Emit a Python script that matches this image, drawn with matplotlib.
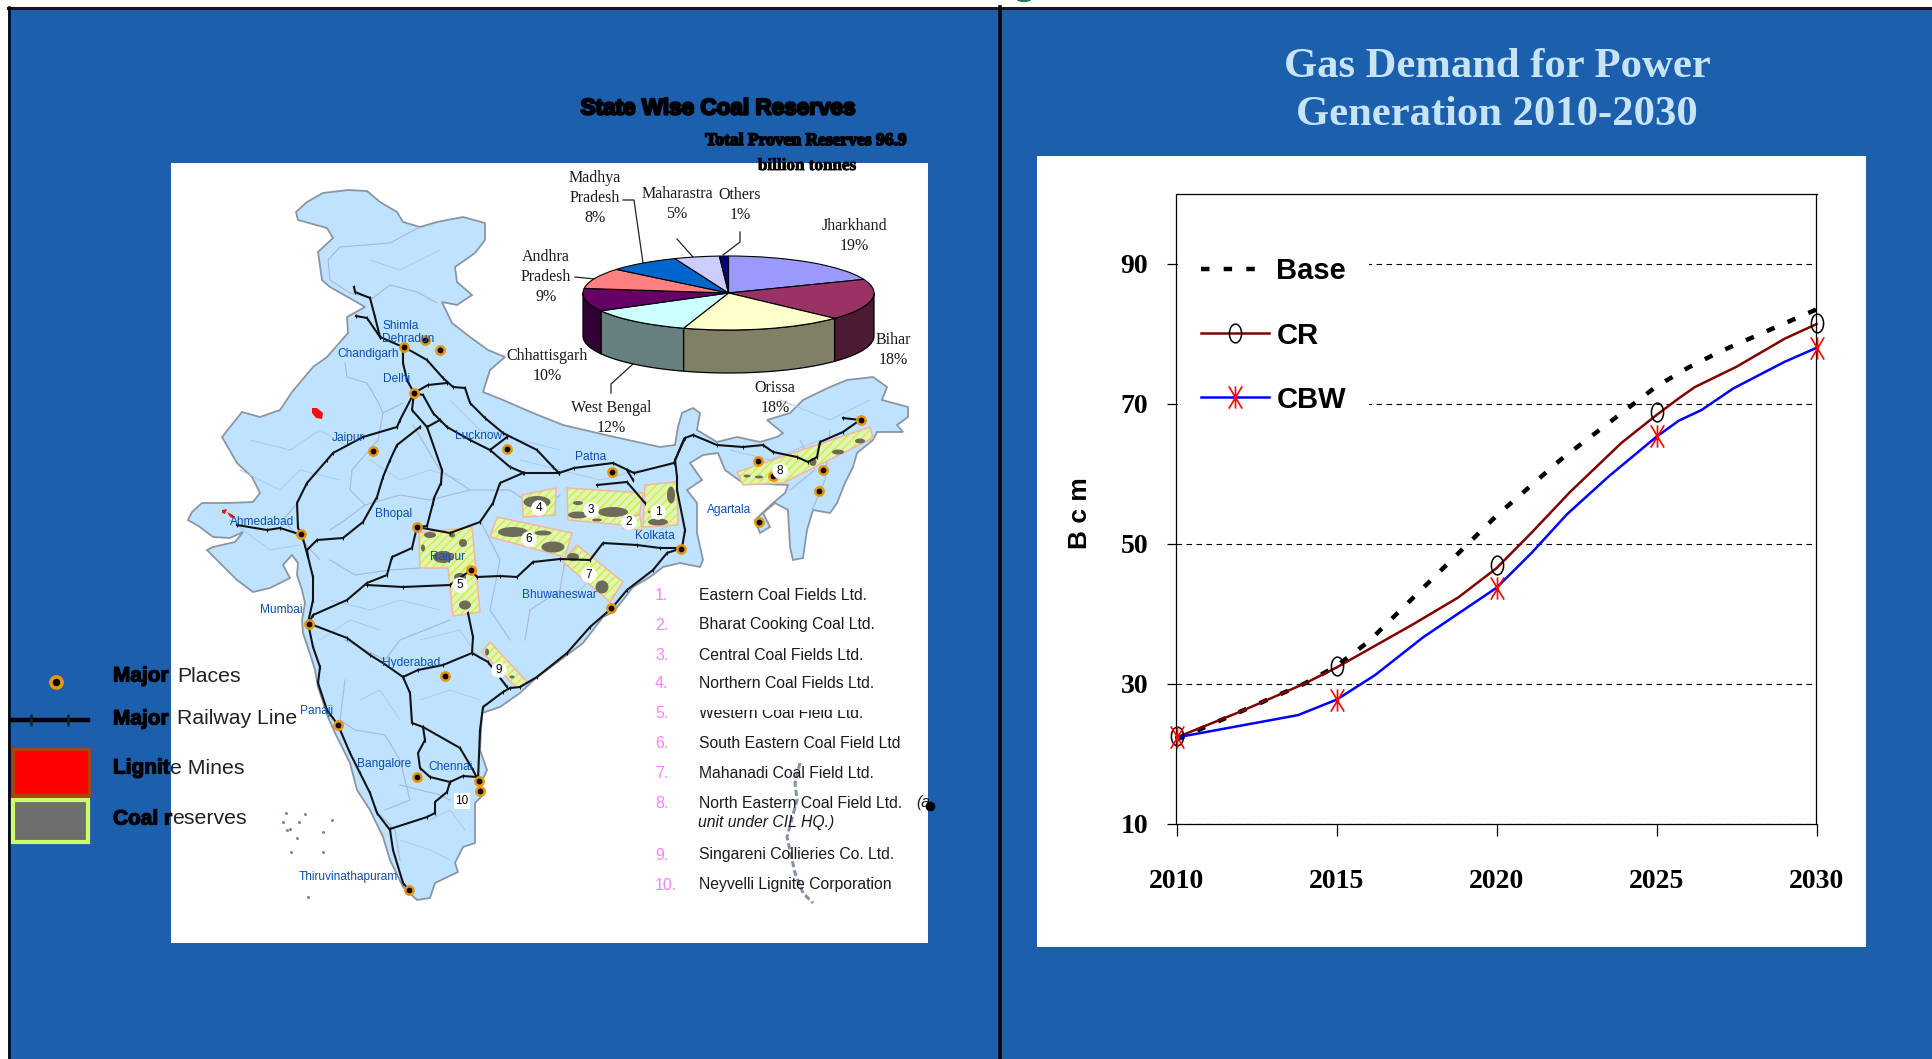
import matplotlib
matplotlib.use('Agg')
import numpy as np
import matplotlib.pyplot as plt
import matplotlib.patheffects as pe
from matplotlib.colors import to_rgb
from matplotlib.lines import Line2D
from matplotlib.patches import Ellipse, Polygon, Rectangle
from matplotlib.path import Path
from matplotlib.transforms import Affine2D

W, H = 1933, 1059
BLUE = '#1C60AD'
SERIF = 'Liberation Serif'
SANS = 'Liberation Sans'

# gas demand curves (Bcm)
base_x = [2010, 2011, 2012, 2013, 2014, 2015, 2016, 2017, 2018, 2019, 2020,
          2021, 2022, 2023, 2024, 2025, 2026, 2027, 2028, 2029, 2030]
base_y = [22, 24, 26, 28, 30, 32.5, 36, 40.5, 45, 49.5, 54,
          58, 62, 65.5, 69, 72.5, 75.2, 77.5, 79.5, 81.5, 83.5]
cr_x = [2010, 2012, 2014, 2015, 2017.4, 2018.8, 2020, 2021.1, 2022.3, 2023.9,
        2025, 2025.7, 2026.2, 2027.5, 2029, 2030]
cr_y = [22.3, 26, 30, 32.3, 38.5, 42.3, 46.5, 51.6, 57.4, 64.4,
        68.4, 70.8, 72.4, 75.3, 79.3, 81.4]
cbw_x = [2010, 2013.8, 2015, 2016.2, 2017.7, 2020, 2021.1, 2022.2, 2023.5,
         2025, 2025.7, 2026.4, 2027.4, 2029, 2030]
cbw_y = [22.3, 25.5, 27.7, 31.2, 36.6, 43.7, 48.7, 54.2, 59.6,
         65.3, 67.6, 69.1, 72.2, 76, 78]
marker_years = [2010, 2015, 2020, 2025, 2030]
cr_marks = [22.5, 32.5, 46.9, 68.8, 81.5]
cbw_marks = [22.3, 27.6, 43.7, 65.4, 78]
y_ticks = [10, 30, 50, 70, 90]

# coal reserves by state (%)
pie_values = [19, 18, 18, 12, 10, 9, 8, 5, 1]
pie_colors = ['#9999FF', '#993366', '#FFFFCC', '#CCFFFF', '#660066',
              '#FF8080', '#0066CC', '#CCCCFF', '#000080']
pie_labels = ['Jharkhand\n19%', 'Bihar\n18%', 'Orissa\n18%', 'West Bengal\n12%',
              'Chhattisgarh\n10%', 'Andhra\nPradesh\n9%', 'Madhya\nPradesh\n8%',
              'Maharastra\n5%', 'Others\n1%']
pie_label_xy = [(854, 236), (893, 350), (775, 398), (611, 418), (547, 366),
                (546, 277), (595, 198), (677, 204), (740, 205)]
pie_leaders = [[(623, 200), (634, 200), (643, 263)],
               [(677, 239), (693, 257)],
               [(740, 232), (740, 242), (723, 255)],
               [(575, 277), (595, 279)],
               [(611, 393), (611, 384), (633, 364)]]

companies = ['Eastern Coal Fields Ltd.', 'Bharat Cooking Coal Ltd.',
             'Central Coal Fields Ltd.', 'Northern Coal Fields Ltd.',
             'Western Coal Field Ltd.', 'South Eastern Coal Field Ltd',
             'Mahanadi Coal Field Ltd.', 'North Eastern Coal Field Ltd.',
             'Singareni Collieries Co. Ltd.', 'Neyvelli Lignite Corporation']
company_rows = [596, 625, 656, 684, 713, 744, 773, 803, 855, 885]

# map geometry, in pixels of the slide
india = [(296, 212), (307, 202), (323, 193), (348, 190), (367, 191), (380, 202),
         (397, 212), (403, 222), (420, 227), (437, 222), (463, 217), (485, 223),
         (485, 240), (475, 253), (455, 267), (457, 282), (472, 295), (457, 305),
         (442, 302), (452, 323), (470, 337), (488, 350), (505, 357), (490, 370),
         (483, 392), (503, 400), (533, 413), (563, 425), (610, 436), (660, 447),
         (675, 445), (678, 427), (682, 413), (693, 408), (700, 413), (697, 430),
         (717, 442), (737, 437), (760, 442), (777, 437), (783, 433), (767, 420),
         (790, 413), (803, 400), (830, 387), (847, 380), (873, 377), (887, 387),
         (882, 400), (908, 407), (908, 417), (897, 425), (903, 432), (877, 432),
         (873, 440), (857, 453), (853, 467), (845, 483), (837, 503), (830, 513),
         (813, 510), (807, 530), (803, 558), (793, 560), (790, 547), (788, 510),
         (775, 503), (763, 513), (770, 527), (760, 533), (755, 520), (773, 503),
         (785, 493), (788, 485), (743, 483), (725, 470), (718, 453), (703, 455),
         (690, 463), (702, 480), (687, 490), (697, 503), (697, 533), (703, 560),
         (700, 567), (680, 563), (663, 567), (650, 577), (633, 587), (623, 600),
         (613, 612), (603, 617), (583, 643), (547, 670), (537, 677), (520, 693),
         (500, 707), (482, 713), (480, 750), (487, 770), (480, 785), (483, 795),
         (475, 803), (475, 843), (463, 847), (455, 863), (458, 872), (435, 883),
         (430, 898), (417, 900), (403, 887), (390, 860), (383, 837), (370, 810),
         (357, 790), (350, 763), (335, 733), (328, 717), (318, 687), (315, 670),
         (312, 660), (303, 633), (302, 620), (305, 603), (302, 590), (297, 575),
         (298, 563), (292, 555), (283, 565), (290, 578), (270, 588), (253, 592),
         (237, 580), (220, 563), (207, 550), (213, 547), (235, 542), (243, 532),
         (230, 538), (213, 537), (200, 527), (188, 520), (192, 512), (202, 503),
         (227, 503), (253, 502), (260, 493), (252, 477), (237, 463), (222, 437),
         (230, 427), (242, 412), (260, 417), (280, 410), (292, 392), (313, 367),
         (327, 357), (348, 333), (347, 317), (365, 307), (353, 300), (330, 287),
         (322, 280), (318, 252), (333, 238), (327, 228), (298, 220)]

state_lines = [[(418, 228), (390, 243), (340, 247), (328, 260), (330, 280), (350, 293), (373, 298)],
               [(373, 298), (390, 285), (417, 292), (437, 303)],
               [(345, 363), (347, 377), (367, 383), (377, 400), (383, 413), (403, 403)],
               [(383, 413), (378, 440), (352, 470), (350, 490), (365, 505), (345, 520), (330, 530)],
               [(413, 425), (440, 470), (470, 490), (510, 490), (540, 510), (560, 495)],
               [(365, 505), (400, 495), (430, 500), (470, 490)],
               [(330, 560), (355, 575), (390, 570), (420, 568)],
               [(480, 520), (500, 560), (490, 610), (510, 640)],
               [(565, 560), (560, 590), (530, 610), (525, 640)],
               [(345, 640), (385, 660), (400, 640), (450, 620)],
               [(345, 680), (340, 720), (355, 730), (385, 735), (400, 760), (410, 800), (385, 810)],
               [(400, 785), (440, 795), (450, 800)],
               [(375, 810), (395, 830), (400, 860)],
               [(300, 500), (283, 520), (320, 560)],
               [(800, 440), (815, 470), (790, 490)],
               [(830, 430), (825, 480), (812, 510)]]
district_lines = [[(250, 440), (290, 450), (320, 430), (345, 445)],
                  [(240, 470), (280, 490), (300, 470), (340, 480)],
                  [(370, 460), (400, 480), (430, 470), (460, 480)],
                  [(450, 400), (480, 430), (520, 440), (560, 450)],
                  [(520, 460), (560, 470), (600, 480), (640, 470)],
                  [(230, 520), (270, 550), (300, 545)],
                  [(330, 600), (370, 610), (400, 600), (440, 610)],
                  [(320, 640), (350, 620), (380, 630)],
                  [(420, 640), (460, 630), (480, 660)],
                  [(540, 590), (570, 600), (590, 580)],
                  [(420, 700), (450, 690), (480, 700)],
                  [(360, 700), (380, 690), (400, 720)],
                  [(430, 820), (450, 810), (465, 830)],
                  [(400, 840), (430, 850), (450, 860)],
                  [(780, 400), (830, 420), (870, 400)],
                  [(730, 450), (770, 460), (820, 440)],
                  [(370, 260), (400, 270), (440, 250)],
                  [(640, 550), (660, 530), (680, 520)]]

rail_lines = [[(354, 287), (355, 292), (370, 298), (375, 317), (380, 337), (403, 347), (403, 363), (407, 380), (414, 393)],
              [(356, 316), (367, 318), (380, 337)],
              [(404, 347), (427, 360), (443, 378), (453, 387), (465, 388), (470, 403), (485, 418), (503, 433), (537, 450), (553, 467), (559, 473)],
              [(559, 473), (574, 468), (613, 463), (634, 473), (674, 463), (684, 439)],
              [(414, 393), (428, 385), (447, 383)],
              [(414, 393), (423, 395), (433, 413), (447, 427), (470, 440), (490, 450), (510, 467), (524, 473), (559, 473)],
              [(490, 450), (507, 437)],
              [(414, 393), (412, 410), (427, 427), (440, 420)],
              [(427, 427), (442, 470), (441, 483), (434, 498), (433, 503), (427, 526), (417, 527)],
              [(417, 527), (412, 548), (392, 557), (387, 575), (367, 583), (347, 600), (313, 615), (309, 623)],
              [(367, 585), (403, 587), (450, 585), (471, 570)],
              [(414, 393), (400, 420), (397, 427), (363, 437), (333, 453), (327, 460), (307, 483), (297, 503), (298, 528), (302, 535)],
              [(302, 535), (280, 528), (267, 530), (237, 525)],
              [(302, 535), (308, 557), (313, 577), (313, 600), (308, 623)],
              [(308, 557), (307, 550), (317, 540), (343, 538), (363, 522), (377, 497), (383, 477), (390, 460), (397, 445), (420, 427)],
              [(308, 623), (347, 638), (370, 655), (383, 663), (403, 677), (410, 693), (412, 723), (423, 727), (460, 748), (473, 770), (478, 780)],
              [(403, 677), (418, 670), (443, 665), (472, 653), (488, 662), (507, 687)],
              [(468, 613), (473, 637), (472, 653)],
              [(478, 780), (480, 730), (483, 707), (503, 692), (510, 688), (520, 687), (537, 677), (567, 653), (590, 627), (612, 608), (627, 590), (653, 570), (667, 553), (682, 548)],
              [(471, 570), (477, 577), (500, 576), (517, 577), (533, 562), (560, 559), (590, 560), (603, 543), (637, 545), (660, 548), (682, 548)],
              [(417, 527), (450, 533), (480, 522), (493, 503), (500, 483), (523, 473)],
              [(682, 548), (685, 530), (677, 490), (677, 477), (675, 460), (685, 438), (693, 435), (717, 445), (743, 447), (763, 445), (773, 452), (797, 457), (808, 462), (817, 457), (820, 442), (843, 432), (860, 420), (843, 418)],
              [(597, 485), (627, 482), (645, 503)],
              [(633, 480), (627, 470)],
              [(423, 727), (425, 740), (418, 753), (420, 768), (430, 777), (450, 782), (463, 776), (477, 777)],
              [(450, 782), (447, 792), (435, 802), (435, 813), (427, 817), (390, 829)],
              [(308, 623), (313, 647), (320, 667), (318, 683), (327, 710), (338, 725), (350, 753), (360, 773), (370, 793), (377, 813), (390, 830), (393, 850), (403, 883), (409, 890)]]

cities = [(404, 347), (425, 340), (440, 350), (414, 393), (373, 451), (507, 449),
          (758, 461), (773, 476), (823, 470), (819, 491), (759, 522), (861, 420),
          (681, 549), (612, 472), (301, 534), (417, 527), (309, 624), (471, 570),
          (611, 608), (445, 676), (338, 725), (417, 777), (479, 781), (480, 791),
          (409, 890)]
city_names = [('Shimla', 383, 326), ('Dehradun', 382, 339), ('Chandigarh', 337, 354),
              ('Delhi', 383, 379), ('Jaipur', 332, 438), ('Lucknow', 455, 436),
              ('Patna', 575, 457), ('Agartala', 707, 510), ('Kolkata', 635, 536),
              ('Bhopal', 375, 514), ('Ahmedabad', 230, 522), ('Raipur', 430, 557),
              ('Bhuwaneswar', 522, 595), ('Mumbai', 260, 610), ('Hyderabad', 382, 663),
              ('Panaji', 300, 711), ('Bangalore', 357, 764), ('Chennai', 428, 767),
              ('Thiruvinathapuram', 299, 877)]

coal_zones = [[(645, 485), (677, 482), (678, 525), (643, 527)],
              [(623, 517), (640, 515), (642, 530), (623, 528)],
              [(567, 488), (643, 493), (640, 513), (623, 525), (568, 520)],
              [(522, 495), (556, 488), (555, 515), (523, 517)],
              [(419, 533), (472, 527), (480, 612), (453, 616), (448, 568), (420, 568)],
              [(497, 517), (572, 533), (565, 557), (490, 537)],
              [(577, 545), (623, 582), (610, 602), (563, 562)],
              [(490, 642), (527, 682), (517, 688), (482, 652)],
              [(737, 472), (870, 427), (873, 438), (783, 483), (743, 485)]]
coal_blobs = [(671, 495, 8, 17), (658, 522, 20, 7), (653, 512, 10, 4), (578, 503, 10, 4),
              (578, 515, 20, 7), (613, 512, 30, 10), (597, 520, 10, 3), (537, 502, 27, 12),
              (430, 535, 12, 6), (452, 535, 6, 5), (463, 543, 8, 8), (443, 557, 20, 12),
              (460, 577, 12, 8), (465, 605, 12, 9), (423, 548, 4, 7), (513, 532, 30, 10),
              (543, 533, 17, 5), (553, 547, 23, 11), (573, 557, 12, 8), (602, 587, 13, 13),
              (487, 652, 4, 7), (512, 677, 5, 3), (838, 452, 12, 5), (860, 441, 10, 5),
              (813, 462, 7, 8), (747, 476, 7, 3), (759, 477, 8, 3)]
zone_numbers = [('1', 658, 512), ('2', 629, 522), ('3', 591, 510), ('4', 539, 508),
                ('5', 460, 585), ('6', 529, 539), ('7', 589, 575), ('8', 780, 471),
                ('9', 499, 670), ('10', 462, 801)]
lignite = [[(312, 408), (317, 408), (323, 413), (322, 419), (316, 418), (312, 413)],
           [(222, 510), (227, 509), (225, 514), (222, 513)],
           [(227, 512), (233, 515), (235, 519), (230, 517)]]
islands_west = [(286, 813), (283, 822), (287, 830), (290, 829), (297, 838), (291, 852),
                (299, 822), (305, 814), (323, 832), (323, 852), (332, 820), (308, 897)]
islands_east = [(800, 763), (795, 783), (797, 800), (787, 837), (795, 873), (803, 893), (813, 903)]

fig = plt.figure(figsize=(W / 100, H / 100), dpi=100, facecolor='white')

# whole slide in pixel coordinates, y downwards
canvas = fig.add_axes([0, 0, 1, 1])
canvas.set_xlim(0, W)
canvas.set_ylim(H, 0)
canvas.axis('off')

canvas.add_patch(Rectangle((8, 7), W, H, fc=BLUE, ec='none', zorder=0))
canvas.plot([8, W], [7.5, 7.5], color='#151515', lw=2.2, zorder=1)
canvas.plot([9, 9], [7, H], color='black', lw=1.8, zorder=1)
canvas.plot([1000.5, 1000.5], [7, H], color='black', lw=2.6, zorder=1)
canvas.add_patch(Ellipse((1024, 0), 14, 4, fc='#1E7A50', ec='none', zorder=1))
canvas.add_patch(Rectangle((171, 163), 757, 780, fc='white', ec='none', zorder=1))
canvas.add_patch(Rectangle((1037, 156), 829, 791, fc='white', ec='none', zorder=1))

# map
canvas.add_patch(Polygon(india, closed=True, fc='#BFE3FF', ec='#8B95A3', lw=1.3, zorder=2))
for line in district_lines:
    xs, ys = zip(*line)
    canvas.plot(xs, ys, color='#AFC6EE', lw=0.7, zorder=2.1)
for line in state_lines:
    xs, ys = zip(*line)
    canvas.plot(xs, ys, color='#A8B8D2', lw=0.8, zorder=2.2)
for zone in coal_zones:
    canvas.add_patch(Polygon(zone, closed=True, fc='#DDF5B8', ec='#D9EC2E', hatch='////', lw=0, zorder=2.3))
    canvas.add_patch(Polygon(zone, closed=True, fc='none', ec='#F3B5A8', lw=1.1, zorder=2.4))
for cx, cy, bw, bh in coal_blobs:
    canvas.add_patch(Ellipse((cx, cy), bw, bh, fc='#6C6C58', ec='none', zorder=2.5))
for patch in lignite:
    canvas.add_patch(Polygon(patch, closed=True, fc='#F01010', ec='none', zorder=2.6))
for line in rail_lines:
    xs, ys = zip(*line)
    canvas.plot(xs, ys, color='#101418', lw=1.5, marker='|', ms=3.5, mew=0.8, zorder=3)
xs, ys = zip(*cities)
canvas.plot(xs, ys, ls='none', marker='o', ms=6, mfc='black', mec='#E8960E', mew=1.8, zorder=3.2)
for name, x, y in city_names:
    canvas.text(x, y, name, family=SANS, fontsize=8.6, color='#0B4FB4', va='center', zorder=4)
for num, x, y in zone_numbers:
    canvas.text(x, y, num, family=SANS, fontsize=8.5, color='black', ha='center', va='center', zorder=4,
                bbox=dict(boxstyle='circle,pad=0.15' if num != '10' else 'square,pad=0.15', fc='white', ec='none'))
xs, ys = zip(*islands_west)
canvas.plot(xs, ys, ls='none', marker='o', ms=2.2, color='#7F8A96', mew=0, zorder=2)
xs, ys = zip(*islands_east)
canvas.plot(xs, ys, color='#8494A8', lw=2.2, ls=(0, (2, 1)), zorder=2)

# company list
for i, (name, row) in enumerate(zip(companies, company_rows)):
    canvas.text(655, row, f'{i + 1}.', family=SANS, fontsize=11.5, color='#FF80FF', va='center', zorder=4)
    canvas.text(699, row, name, family=SANS, fontsize=11.3, color='#1A1A1A', va='center', zorder=4)
canvas.text(916, 803, '(a', family=SANS, style='italic', fontsize=11.3, color='#1A1A1A', va='center', zorder=4)
canvas.plot([930], [806], marker='o', ms=6, color='black', zorder=4)
canvas.text(698, 823, 'unit under CIL HQ.)', family=SANS, style='italic', fontsize=11.3,
            color='#1A1A1A', va='center', zorder=4)
# rows 5 and 6 are partly cut off on the slide
canvas.add_patch(Rectangle((690, 703), 190, 6.5, fc='white', ec='none', zorder=5))
canvas.add_patch(Rectangle((690, 749), 190, 6, fc='white', ec='none', zorder=5))

# map legend, split over the panel edge
double = [pe.withStroke(linewidth=0.9, foreground='black')]
for head, tail, tail_x, row in [('Major', 'Places', 177, 676), ('Major', 'Railway Line', 177, 719),
                                ('Lignit', 'e Mines', 170, 768), ('Coal r', 'eserves', 172, 819)]:
    canvas.text(113, row, head, family=SANS, weight='bold', fontsize=15, color='black', va='center',
                zorder=6, path_effects=double)
    canvas.text(tail_x, row, tail, family=SANS, fontsize=15.3, color='#222222', va='center', zorder=6)
canvas.plot([56], [682], marker='o', ms=8, mfc='black', mec='#E8960E', mew=2.6, zorder=6)
canvas.plot([12, 88], [720, 720], color='black', lw=3.2, zorder=6)
canvas.plot([31, 68], [720, 720], ls='none', marker='|', ms=9, mew=1.8, color='#202020', zorder=6)
canvas.add_patch(Rectangle((13, 749), 76, 46, fc='#FF0000', ec='#A84418', lw=2.2, zorder=6))
canvas.add_patch(Rectangle((13, 800), 75, 42, fc='#6E6E6E', ec='#CCFF66', lw=3, zorder=6))

# pie titles and labels
canvas.text(718, 109, 'State Wise Coal Reserves', family=SANS, weight='bold', fontsize=16.2, color='black',
            ha='center', va='center', zorder=6, path_effects=[pe.withStroke(linewidth=1.6, foreground='black')])
canvas.text(806, 141, 'Total Proven Reserves 96.9', family=SERIF, weight='bold', fontsize=12.6, color='black',
            ha='center', va='center', zorder=6, path_effects=[pe.withStroke(linewidth=1.2, foreground='black')])
canvas.text(807, 166, 'billion tonnes', family=SERIF, weight='bold', fontsize=12.3, color='black',
            ha='center', va='center', zorder=6, path_effects=[pe.withStroke(linewidth=0.6, foreground='black')])
for label, (x, y) in zip(pie_labels, pie_label_xy):
    canvas.text(x, y, label, family=SERIF, fontsize=11.5, color='#1A1A1A', ha='center', va='center',
                linespacing=1.32, zorder=6)
for leader in pie_leaders:
    xs, ys = zip(*leader)
    canvas.plot(xs, ys, color='#222222', lw=0.9, zorder=6)

# 3-D looking pie: flat pie squashed by the axes, walls underneath
pie_depth = 43 / 37
pie_ax = fig.add_axes([583 / W, (H - 373) / H, 291 / W, 117 / H], zorder=2)
pie_ax.patch.set_visible(False)
start = 90.0
for value, color in zip(pie_values, pie_colors):
    stop = start - 3.6 * value
    a0, a1 = max(stop, -180.0), min(start, 0.0)
    if a1 > a0:
        angles = np.radians(np.linspace(a0, a1, 40))
        upper = np.column_stack([np.cos(angles), np.sin(angles)])
        lower = (upper - [0, pie_depth])[::-1]
        shade = tuple(c * 0.5 for c in to_rgb(color))
        pie_ax.add_patch(Polygon(np.vstack([upper, lower]), closed=True, fc=shade, ec='black', lw=0.9, clip_on=False))
    start = stop
pie_ax.pie(pie_values, colors=pie_colors, startangle=90, counterclock=False, radius=1,
           wedgeprops=dict(edgecolor='black', linewidth=0.8, clip_on=False))
pie_ax.set_aspect('auto')
pie_ax.set_xlim(-1, 1)
pie_ax.set_ylim(-1 - pie_depth, 1)

# gas demand chart
ax = fig.add_axes([1176.5 / W, (H - 823.5) / H, 640 / W, 629.5 / H], zorder=2)
ax.set_xlim(2010, 2030)
ax.set_ylim(10, 100)
ax.set_xticks(marker_years)
ax.set_yticks(y_ticks)
ax.grid(True, axis='y', color='black', lw=0.8, ls=(0, (5, 4)))
ax.set_axisbelow(True)
ax.tick_params(axis='y', length=6.5, width=0.9, pad=14)
ax.tick_params(axis='x', length=8.5, width=0.9, pad=24)
for label in ax.get_xticklabels() + ax.get_yticklabels():
    label.set_family(SERIF)
    label.set_weight('bold')
    label.set_fontsize(20)
for spine in ax.spines.values():
    spine.set_linewidth(0.9)

# tall narrow marker shapes
ring = Path.unit_circle().transformed(Affine2D().scale(0.65, 1))
star = Path([(-0.6, -1), (0.6, 1), (0.6, -1), (-0.6, 1), (0, -1), (0, 1)],
            [Path.MOVETO, Path.LINETO] * 3)

base_style = dict(color='black', lw=3.2, ls=(0, (1.9, 3.2)))
ax.plot(base_x, base_y, clip_on=False, **base_style)
ax.plot(cr_x, cr_y, color='#800000', lw=1.8, clip_on=False)
ax.plot(cbw_x, cbw_y, color='#0000FF', lw=1.8, clip_on=False)
ax.plot(marker_years, cr_marks, ls='none', marker=ring, ms=13.5, mfc='none', mec='black', mew=1.1, clip_on=False, zorder=4)
ax.plot(marker_years, cbw_marks, ls='none', marker=star, ms=16, mfc='none', mec='#FF0000', mew=1.2, clip_on=False, zorder=4)

handles = [Line2D([], [], **base_style),
           Line2D([], [], color='#800000', lw=1.8, marker=ring, ms=13.5, mfc='none', mec='black', mew=1.1),
           Line2D([], [], color='#0000FF', lw=1.8, marker=star, ms=16, mfc='none', mec='#FF0000', mew=1.2)]
ax.legend(handles, ['Base', 'CR', 'CBW'], loc='upper left', bbox_to_anchor=(1178 / W, 1 - 234 / H),
          bbox_transform=fig.transFigure, borderaxespad=0, framealpha=1, facecolor='white', edgecolor='none',
          fancybox=False, numpoints=1, handlelength=2.33, handletextpad=0.24, labelspacing=1.24, borderpad=0.8,
          prop=dict(family=SANS, weight='bold', size=21))

canvas.text(1080, 513, 'B c m', family=SANS, weight='bold', fontsize=19, rotation=90,
            ha='center', va='center', color='black', zorder=6)
canvas.text(1497, 91, 'Gas Demand for Power\nGeneration 2010-2030', family=SERIF, weight='bold', fontsize=30.7,
            color='#C8E4F4', ha='center', va='center', linespacing=1.35, zorder=6)

fig.savefig('out.png', dpi=100)
